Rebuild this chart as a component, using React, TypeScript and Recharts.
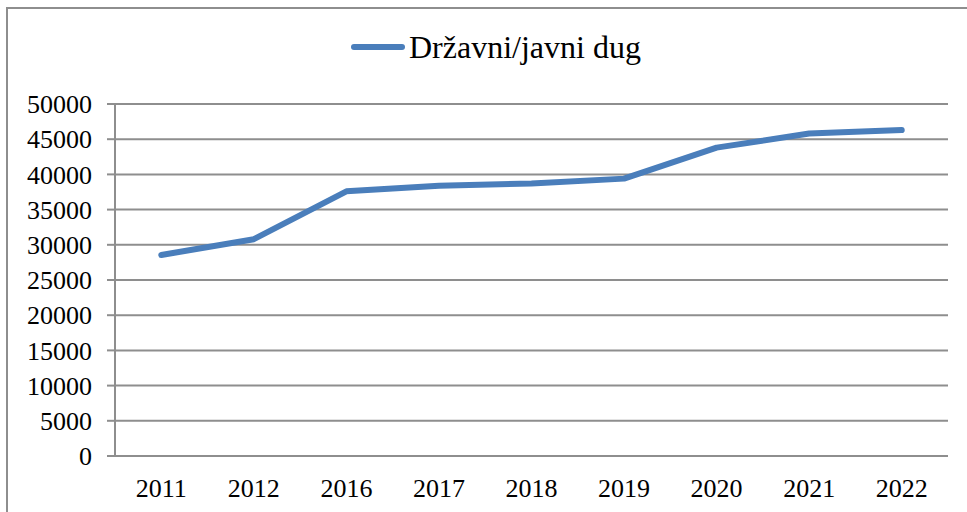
import { LineChart, Line, XAxis, YAxis, CartesianGrid, Legend } from 'recharts'

const years = ['2011', '2012', '2016', '2017', '2018', '2019', '2020', '2021', '2022']
const debt = [28550, 30800, 37600, 38400, 38700, 39400, 43800, 45800, 46300]
const yTicks = [0, 5000, 10000, 15000, 20000, 25000, 30000, 35000, 40000, 45000, 50000]
const seriesName = 'Državni/javni dug'

const GRAY = '#8e8e8e'
const BLUE = '#4a7ebb'
const FONT = '"Liberation Serif", "Times New Roman", serif'

const data = years.map((year, i) => ({ x: i + 0.5, year, debt: debt[i] }))
const labelTicks = years.map((_, i) => i + 0.5)
const boundaryTicks = years.map((_, i) => i).concat(years.length)

function LegendBox() {
  return (
    <div style={{ position: 'relative', height: 104, width: 967 }}>
      <div
        style={{
          position: 'absolute', left: 351, top: 30, height: 34,
          display: 'flex', alignItems: 'center', fontFamily: FONT, fontSize: 32, color: '#000',
        }}
      >
        <span
          style={{
            display: 'inline-block', width: 54, height: 6, borderRadius: 3,
            background: BLUE, marginRight: 4,
          }}
        />
        {seriesName}
      </div>
    </div>
  )
}

export default function App() {
  return (
    <div style={{ position: 'absolute', left: 0, top: 0, width: 967, height: 512, overflow: 'hidden', background: '#fff' }}>
      <div
        style={{
          position: 'absolute', left: 6, top: 7, width: 980, height: 520,
          borderLeft: `2px solid ${GRAY}`, borderTop: `2px solid ${GRAY}`,
        }}
      />
      <div style={{ position: 'absolute', left: 0, top: 0 }}>
        <LineChart width={967} height={512} data={data} margin={{ top: 0, right: 19, left: 0, bottom: 0 }}>
          <Legend
            verticalAlign="top"
            align="left"
            content={() => <LegendBox />}
            wrapperStyle={{ left: 0, top: 0, width: 967, height: 104 }}
          />
          <CartesianGrid vertical={false} stroke={GRAY} strokeWidth={2} />
          <XAxis
            xAxisId="grid"
            type="number"
            dataKey="x"
            domain={[0, years.length]}
            ticks={boundaryTicks}
            tick={false}
            tickSize={8}
            height={0}
            axisLine={{ stroke: GRAY, strokeWidth: 2 }}
            tickLine={{ stroke: GRAY, strokeWidth: 2 }}
          />
          <XAxis
            type="number"
            dataKey="x"
            domain={[0, years.length]}
            ticks={labelTicks}
            tickFormatter={(v: number) => years[Math.floor(v)]}
            axisLine={false}
            tickLine={false}
            tickSize={0}
            tickMargin={23}
            height={56}
            interval={0}
            tick={{ fill: '#000', fontSize: 26, fontFamily: FONT }}
          />
          <YAxis
            domain={[0, 50000]}
            ticks={yTicks}
            width={115}
            interval={0}
            tickSize={8}
            tickMargin={15}
            axisLine={{ stroke: GRAY, strokeWidth: 2 }}
            tickLine={{ stroke: GRAY, strokeWidth: 2 }}
            tick={{ fill: '#000', fontSize: 26, fontFamily: FONT }}
          />
          <Line
            type="linear"
            dataKey="debt"
            name={seriesName}
            stroke={BLUE}
            strokeWidth={6}
            strokeLinecap="round"
            strokeLinejoin="round"
            dot={false}
            activeDot={false}
            isAnimationActive={false}
          />
        </LineChart>
      </div>
    </div>
  )
}
